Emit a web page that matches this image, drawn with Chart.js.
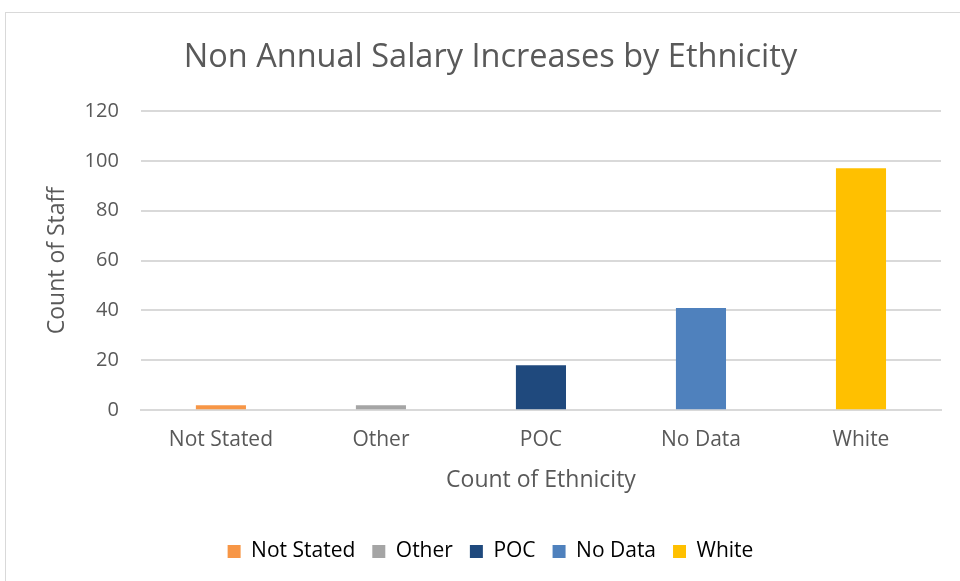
<!DOCTYPE html>
<html>
<head>
<meta charset="utf-8">
<script src="https://cdn.jsdelivr.net/npm/chart.js@4/dist/chart.umd.min.js"></script>
<style>
    html, body { margin: 0; padding: 0; background: #fff; }
    #frame {
        position: absolute; left: 5px; top: 12px; width: 960px; height: 575px;
        border: 1px solid #d9d9d9; box-sizing: border-box; background: #fff;
    }
    #wrap { position: absolute; left: 0; top: 0; width: 960px; height: 581px; }
</style>
</head>
<body>
<div id="frame"></div>
<div id="wrap"><canvas id="chart"></canvas></div>
<script>
// Data
var categories = ['Not Stated', 'Other', 'POC', 'No Data', 'White'];
var staffCounts = [2, 2, 18, 41, 97];
var barColors = ['#f79646', '#a5a5a5', '#1f497d', '#4f81bd', '#ffc000'];
var yTicks = [0, 20, 40, 60, 80, 100, 120];

var font = '"Open Sans", "DejaVu Sans", sans-serif';
var textColor = '#595959';

var chart = new Chart(document.getElementById('chart').getContext('2d'), {
    type: 'bar',
    data: {
        labels: categories,
        datasets: [
            {
                label: 'Count of Staff',
                data: staffCounts,
                backgroundColor: barColors,
                borderWidth: 0,
                categoryPercentage: 1,
                barPercentage: 0.313
            }
        ]
    },
    options: {
        responsive: true,
        maintainAspectRatio: false,
        animation: false,
        layout: { padding: { left: 40, right: 19, top: 20, bottom: 9 } },
        plugins: {
            title: {
                display: true,
                text: 'Non Annual Salary Increases by Ethnicity',
                color: textColor,
                font: { family: font, size: 32.5, weight: 'normal' },
                padding: { top: 18, bottom: 34 }
            },
            legend: {
                position: 'bottom',
                labels: {
                    color: textColor,
                    font: { family: font, size: 21 },
                    boxWidth: 13,
                    boxHeight: 13,
                    padding: 17,
                    // one legend entry per category colour
                    generateLabels: function (c) {
                        return categories.map(function (name, i) {
                            return {
                                text: name,
                                fillStyle: barColors[i],
                                strokeStyle: barColors[i],
                                lineWidth: 0,
                                index: i
                            };
                        });
                    }
                },
                onClick: null
            },
            tooltip: { enabled: false }
        },
        scales: {
            x: {
                grid: { display: false },
                border: { color: '#d9d9d9', width: 2 },
                ticks: { color: textColor, font: { family: font, size: 21 }, padding: 9 },
                title: {
                    display: true,
                    text: 'Count of Ethnicity',
                    color: textColor,
                    font: { family: font, size: 23 },
                    padding: { top: 5, bottom: 30 }
                }
            },
            y: {
                min: 0,
                max: 120,
                afterBuildTicks: function (axis) {
                    axis.ticks = yTicks.map(function (v) { return { value: v }; });
                },
                grid: { color: '#d9d9d9', lineWidth: 2, drawTicks: false },
                border: { display: false },
                ticks: { color: textColor, font: { family: font, size: 20 }, padding: 22 },
                title: {
                    display: true,
                    text: 'Count of Staff',
                    color: textColor,
                    font: { family: font, size: 23 },
                    padding: { top: 4, bottom: -9 }
                }
            }
        }
    }
});
</script>
</body>
</html>
